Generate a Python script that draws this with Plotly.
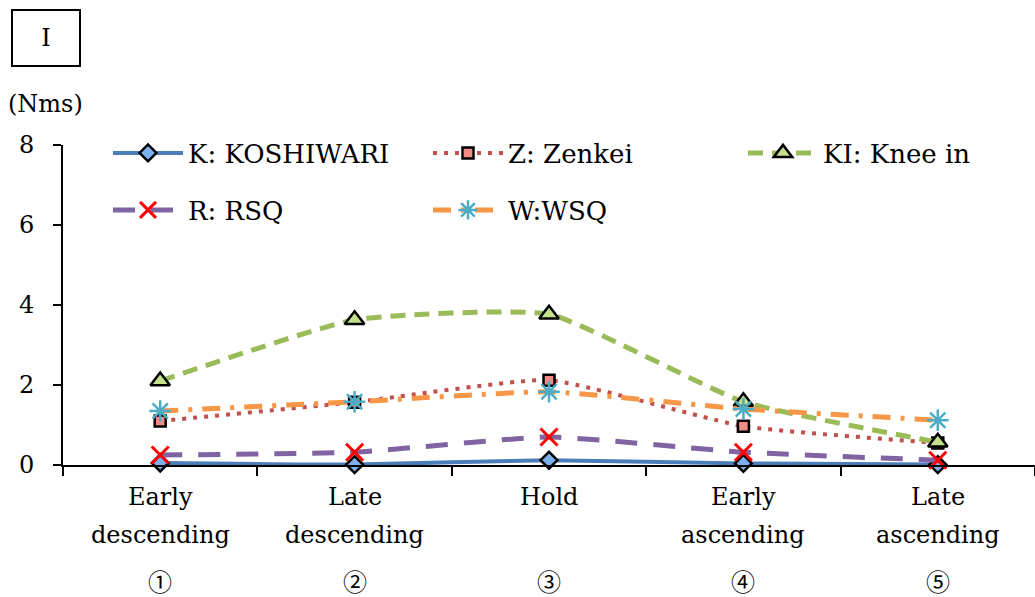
import plotly.graph_objects as go

# Phases of the squat movement
phases = ["Early descending", "Late descending", "Hold", "Early ascending", "Late ascending"]
phase_line1 = ["Early", "Late", "Hold", "Early", "Late"]
phase_line2 = ["descending", "descending", "", "ascending", "ascending"]
phase_marks = ["①", "②", "③", "④", "⑤"]

# Angular impulse (Nms) per squat style
k_koshiwari = [0.05, 0.01, 0.12, 0.04, 0.01]
z_zenkei = [1.10, 1.57, 2.12, 0.97, 0.55]
ki_knee_in = [2.10, 3.63, 3.77, 1.58, 0.57]
r_rsq = [0.25, 0.32, 0.70, 0.32, 0.12]
w_wsq = [1.35, 1.58, 1.83, 1.40, 1.12]

y_ticks = [0, 2, 4, 6, 8]

FONT = "DejaVu Serif"
W, H = 1035, 597
ML, MR, MT, MB = 63, 0, 145, 132
PW, PH = W - ML - MR, H - MT - MB
xs = list(range(len(phases)))


def px_x(px):
    return (px - ML) / PW


def px_y(py):
    return (H - MB - py) / PH


fig = go.Figure()


def add_series(name, values, color, dash, width, symbol, msize, mcolor, mline, mlinecolor, legend):
    fig.add_trace(go.Scatter(
        x=xs, y=values, name=name, mode="lines+markers",
        line=dict(color=color, width=width, dash=dash, shape="spline", smoothing=0.45),
        marker=dict(symbol=symbol, size=msize, color=mcolor,
                    line=dict(color=mlinecolor, width=mline)),
        cliponaxis=False, legend=legend,
    ))


add_series("K: KOSHIWARI", k_koshiwari, "#4a7ebb", "solid", 4, "diamond", 13,
           "#7cb1ee", 2.5, "black", "legend")
add_series("Z: Zenkei", z_zenkei, "#c0504d", "4px,7px", 4, "square", 11,
           "#f08c88", 2.5, "black", "legend2")
add_series("KI: Knee in", ki_knee_in, "#9bbb59", "15px,9px", 5, "triangle-up", 17,
           "#c4e08a", 2.5, "black", "legend3")
add_series("R: RSQ", r_rsq, "#8064a2", "22px,16px", 5, "x-thin-open", 17,
           "#ff0000", 3, "#ff0000", "legend4")
add_series("W:WSQ", w_wsq, "#f79646", "18px,10px,4px,10px", 5, "asterisk-open", 18,
           "#4bacc6", 2.5, "#4bacc6", "legend5")

annotations = []
for i in xs:
    annotations.append(dict(x=i, y=0, xref="x", yref="y", text=phase_line1[i],
                            showarrow=False, yshift=-32, yanchor="middle",
                            font=dict(family=FONT, size=24, color="black")))
    if phase_line2[i]:
        annotations.append(dict(x=i, y=0, xref="x", yref="y", text=phase_line2[i],
                                showarrow=False, yshift=-70, yanchor="middle",
                                font=dict(family=FONT, size=24, color="black")))
    annotations.append(dict(x=i, y=0, xref="x", yref="y", text=phase_marks[i],
                            showarrow=False, yshift=-115, yanchor="middle",
                            font=dict(family="Noto Sans CJK JP", size=24, color="black")))

# Panel label and unit
annotations.append(dict(x=px_x(46), y=px_y(38), xref="paper", yref="paper",
                        text="I", showarrow=False, xanchor="center", yanchor="middle",
                        font=dict(family=FONT, size=24, color="black"),
                        bordercolor="black", borderwidth=2, width=64, height=52))
annotations.append(dict(x=px_x(6), y=px_y(104), xref="paper", yref="paper",
                        text="(Nms)", showarrow=False, xanchor="left", yanchor="middle",
                        font=dict(family=FONT, size=24, color="black")))

legend_style = dict(xref="paper", yref="paper", xanchor="left", yanchor="middle",
                    font=dict(family=FONT, size=26, color="black"),
                    bgcolor="rgba(0,0,0,0)", borderwidth=0, itemwidth=70)

fig.update_layout(
    width=W, height=H,
    margin=dict(l=ML, r=MR, t=MT, b=MB, pad=0),
    paper_bgcolor="white", plot_bgcolor="white",
    showlegend=True,
    legend=dict(x=px_x(108), y=px_y(153), **legend_style),
    legend2=dict(x=px_x(428), y=px_y(153), **legend_style),
    legend3=dict(x=px_x(743), y=px_y(153), **legend_style),
    legend4=dict(x=px_x(108), y=px_y(210), **legend_style),
    legend5=dict(x=px_x(428), y=px_y(210), **legend_style),
    xaxis=dict(range=[-0.5, len(phases) - 0.5], tickvals=[i - 0.5 for i in range(len(phases) + 1)],
               ticktext=[""] * (len(phases) + 1), showgrid=False, zeroline=False,
               showline=True, linecolor="black", linewidth=2,
               ticks="outside", ticklen=9, tickwidth=2, tickcolor="black"),
    yaxis=dict(range=[0, 8], tickvals=y_ticks, ticktext=[str(v) for v in y_ticks],
               showgrid=False, zeroline=False, showline=True, linecolor="black",
               linewidth=2, ticks="outside", ticklen=8, tickwidth=2, tickcolor="black",
               tickfont=dict(family=FONT, size=24, color="black"), ticklabelstandoff=14),
    annotations=annotations,
)

fig.write_html("out.html")
